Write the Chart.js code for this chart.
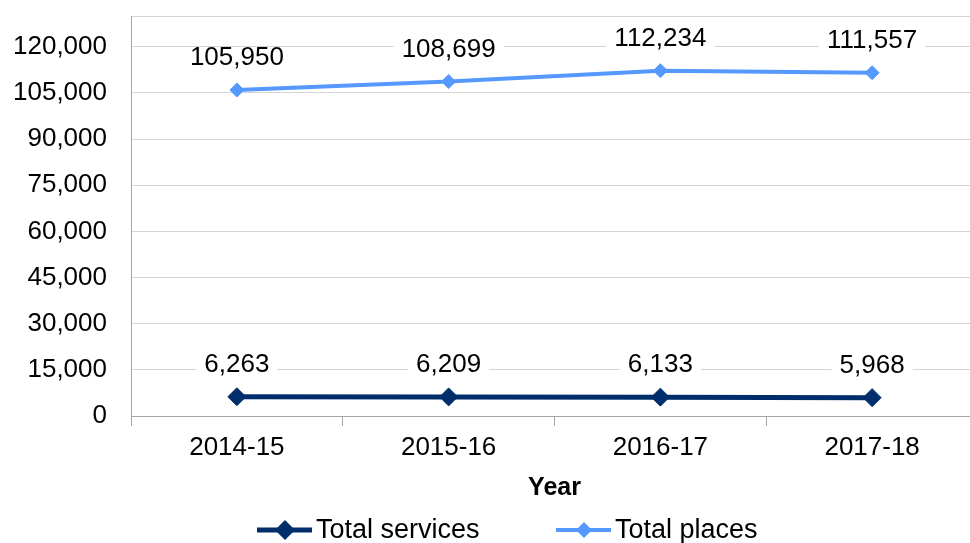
<!DOCTYPE html>
<html>
<head>
<meta charset="utf-8">
<script src="https://cdn.jsdelivr.net/npm/chart.js@4/dist/chart.umd.min.js"></script>
<style>
  html, body { margin: 0; padding: 0; background: #fff; overflow: hidden; }
  #wrap { width: 988px; height: 543px; }
</style>
</head>
<body>
<div id="wrap"><canvas id="chart" width="988" height="543"></canvas></div>
<script>
// chart data
const years = ['2014-15', '2015-16', '2016-17', '2017-18'];
const totalServices = [6263, 6209, 6133, 5968];
const totalPlaces = [105950, 108699, 112234, 111557];
const yTicks = [0, 15000, 30000, 45000, 60000, 75000, 90000, 105000, 120000];
const yMax = 130000;

const FONT = '"Liberation Sans", Arial, sans-serif';
const DARK = '#002D6B';
const LIGHT = '#5599FF';

const fmt = v => v.toLocaleString('en-US');

// value labels above each point, with a white box that breaks the gridline
const pointLabels = {
    id: 'pointLabels',
    afterDatasetsDraw(chart) {
        const ctx = chart.ctx;
        ctx.save();
        ctx.font = '26px ' + FONT;
        ctx.textAlign = 'center';
        ctx.textBaseline = 'middle';
        chart.data.datasets.forEach((ds, i) => {
            chart.getDatasetMeta(i).data.forEach((pt, j) => {
                const txt = fmt(ds.data[j]);
                const w = ctx.measureText(txt).width;
                const y = pt.y - 32;
                ctx.fillStyle = '#fff';
                ctx.fillRect(pt.x - w / 2 - 8, y - 11, w + 16, 22);
                ctx.fillStyle = '#000';
                ctx.fillText(txt, pt.x, y);
            });
        });
        ctx.restore();
    }
};

// legend drawn as line + diamond marker, like the original
const lineLegend = {
    id: 'lineLegend',
    afterDraw(chart) {
        const ctx = chart.ctx;
        const area = chart.chartArea;
        const y = 530;
        let x = area.left + 126;
        ctx.save();
        ctx.font = '27px ' + FONT;
        ctx.textBaseline = 'middle';
        chart.data.datasets.forEach(ds => {
            ctx.strokeStyle = ds.borderColor;
            ctx.lineWidth = ds.borderWidth;
            ctx.beginPath();
            ctx.moveTo(x, y);
            ctx.lineTo(x + 55, y);
            ctx.stroke();
            const r = ds.pointRadius + 1;
            ctx.fillStyle = ds.borderColor;
            ctx.beginPath();
            ctx.moveTo(x + 28, y - r);
            ctx.lineTo(x + 28 + r, y);
            ctx.lineTo(x + 28, y + r);
            ctx.lineTo(x + 28 - r, y);
            ctx.closePath();
            ctx.fill();
            ctx.fillStyle = '#000';
            ctx.fillText(ds.label, x + 59, y + 1);
            x += 299;
        });
        ctx.restore();
    }
};

new Chart(document.getElementById('chart'), {
    type: 'line',
    data: {
        labels: years,
        datasets: [{
            label: 'Total services',
            data: totalServices,
            borderColor: DARK,
            backgroundColor: DARK,
            borderWidth: 5,
            pointStyle: 'rectRot',
            pointRadius: 9,
            pointBorderWidth: 1,
            tension: 0
        }, {
            label: 'Total places',
            data: totalPlaces,
            borderColor: LIGHT,
            backgroundColor: LIGHT,
            borderWidth: 4,
            pointStyle: 'rectRot',
            pointRadius: 7,
            pointBorderWidth: 1,
            tension: 0
        }]
    },
    options: {
        responsive: false,
        animation: false,
        layout: { padding: { top: 16, right: 1, left: 0, bottom: 0 } },
        plugins: {
            legend: { display: false },
            tooltip: { enabled: false }
        },
        scales: {
            x: {
                offset: true,
                afterFit: s => { s.height = 127; },
                grid: {
                    drawOnChartArea: false,
                    offset: true,
                    tickLength: 10,
                    color: '#a6a6a6'
                },
                border: { color: '#a6a6a6' },
                ticks: {
                    padding: 6,
                    color: '#000',
                    font: { family: FONT, size: 26 }
                },
                title: {
                    display: true,
                    text: 'Year',
                    color: '#000',
                    font: { family: FONT, size: 25, weight: 'bold' },
                    padding: { top: 4, bottom: 40 }
                }
            },
            y: {
                min: 0,
                max: yMax,
                afterFit: s => {
                    s.width = 131;
                    s.paddingTop = 0;
                    s.paddingBottom = 0;
                },
                afterBuildTicks: s => {
                    s.ticks = yTicks.concat([yMax]).map(v => ({ value: v }));
                },
                grid: { color: '#d4d4d4', tickLength: 0, drawTicks: false },
                border: { color: '#a6a6a6' },
                ticks: {
                    padding: 24,
                    color: '#000',
                    font: { family: FONT, size: 26 },
                    callback: v => v === yMax ? '' : fmt(v)
                }
            }
        }
    },
    plugins: [pointLabels, lineLegend]
});
</script>
</body>
</html>
